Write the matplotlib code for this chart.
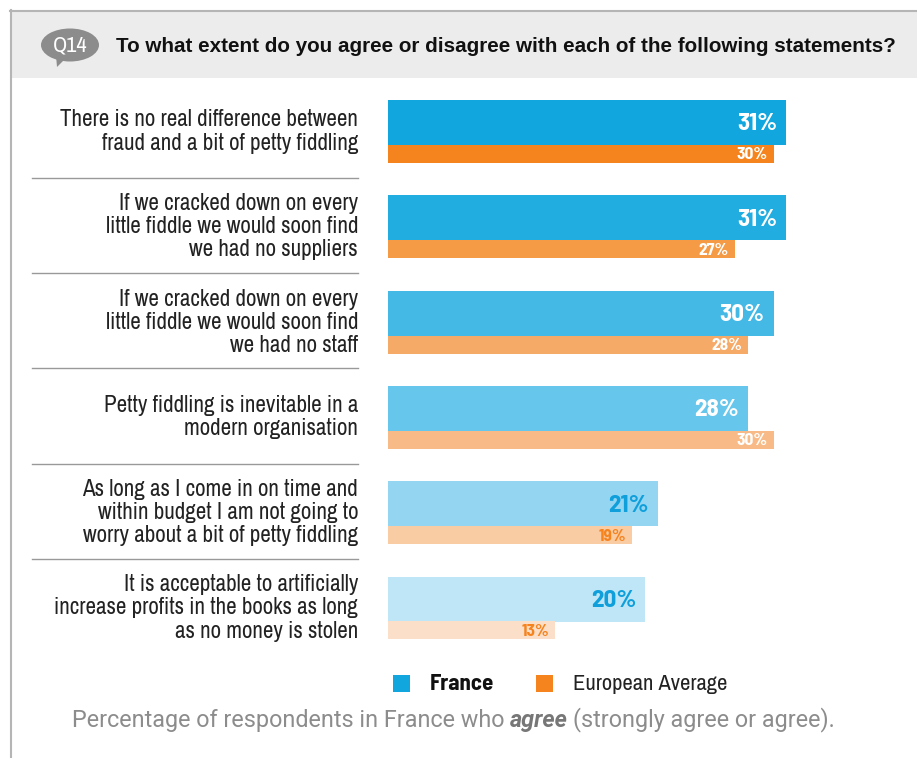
import matplotlib.pyplot as plt
from matplotlib.patches import Rectangle, Ellipse, Polygon
import numpy as np

# Data
statements = [
    'There is no real difference between\nfraud and a bit of petty fiddling',
    'If we cracked down on every\nlittle fiddle we would soon find\nwe had no suppliers',
    'If we cracked down on every\nlittle fiddle we would soon find\nwe had no staff',
    'Petty fiddling is inevitable in a\nmodern organisation',
    'As long as I come in on time and\nwithin budget I am not going to\nworry about a bit of petty fiddling',
    'It is acceptable to artificially\nincrease profits in the books as long\nas no money is stolen',
]
france = [31, 31, 30, 28, 21, 20]
europe = [30, 27, 28, 30, 19, 13]

blue_cols = ['#12a6df', '#22ade1', '#45b9e6', '#66c6eb', '#94d6f1', '#bfe6f6']
orange_cols = ['#f5841f', '#f59a45', '#f6aa68', '#f8bb87', '#f9cca4', '#fbdfc8']
label_cols_b = ['white', 'white', 'white', 'white', '#0f9fdb', '#0f9fdb']
label_cols_o = ['white', 'white', 'white', 'white', '#f5841f', '#f5841f']

narrow = ['Archivo Narrow', 'Liberation Sans Narrow', 'DejaVu Sans']
narrow_bold = ['Barlow Semi Condensed', 'Archivo Narrow', 'DejaVu Sans']
light = ['Roboto', 'DejaVu Sans']
plt.rcParams['font.family'] = ['Liberation Sans', 'DejaVu Sans']

W, H = 917, 758
fig = plt.figure(figsize=(W / 100, H / 100), dpi=100)

# background axes in pixel coordinates
bg = fig.add_axes([0, 0, 1, 1])
bg.set_xlim(0, W)
bg.set_ylim(H, 0)
bg.axis('off')

bg.add_patch(Rectangle((10, 11), W, 67, facecolor='#ececec', edgecolor='none'))
bg.plot([10, W], [10.5, 10.5], color='#b5b5b5', lw=1.5)
bg.plot([10.5, 10.5], [10, H], color='#b5b5b5', lw=1.5)

# Q14 bubble
bg.add_patch(Ellipse((70, 45), 58, 33, facecolor='#8c8c8c', edgecolor='none'))
bg.add_patch(Polygon([[56, 55], [66, 58], [57, 67]], closed=True, facecolor='#8c8c8c', edgecolor='none'))
bg.text(70, 45.5, 'Q14', color='white', fontsize=16, ha='center', va='center', family=narrow)
bg.text(116, 46, 'To what extent do you agree or disagree with each of the following statements?',
        fontsize=14.9, fontweight='bold', color='#111111', ha='left', va='center')

# bar axes
scale = 12.85
unit = 95.3
top_px = 82
ax_left, ax_right = 388, 388 + scale * 40
ax = fig.add_axes([ax_left / W, 1 - (top_px + 6 * unit) / H, (ax_right - ax_left) / W, 6 * unit / H])
ax.set_xlim(0, 40)
ax.set_ylim(6, 0)
ax.axis('off')

y = np.arange(len(statements))
off = 18 / unit
hb = 45 / unit
ho = 18 / unit
ax.barh(y + off + hb / 2, france, height=hb, color=blue_cols, align='center')
ax.barh(y + off + hb + ho / 2, europe, height=ho, color=orange_cols, align='center')

for i in range(len(statements)):
    ax.text(france[i] - 9 / scale, i + off + hb / 2 + 0.02, f'{france[i]}%', ha='right', va='center',
            fontsize=18, fontweight='bold', color=label_cols_b[i], family=narrow_bold)
    ax.text(europe[i] - 6 / scale, i + off + hb + ho / 2 + 0.01, f'{europe[i]}%', ha='right', va='center',
            fontsize=12.5, fontweight='bold', color=label_cols_o[i], family=narrow_bold)
    # statement label
    ax.text(-30 / scale, i + off + (hb + ho) / 2, statements[i], ha='right', va='center',
            fontsize=16.6, color='#222222', family=narrow, linespacing=1.12)
    if i > 0:
        ax.plot([-356 / scale, -30 / scale], [i + 0.005, i + 0.005], color='#999999', lw=1,
                clip_on=False)

# legend
bg.add_patch(Rectangle((393, 675), 17, 17, facecolor='#12a6df', edgecolor='none'))
bg.text(430, 684, 'France', fontsize=16.5, fontweight='bold', color='#111111', va='center',
        family=narrow_bold)
bg.add_patch(Rectangle((536, 675), 17, 17, facecolor='#f5841f', edgecolor='none'))
bg.text(573, 684, 'European Average', fontsize=16.2, color='#222222', va='center', family=narrow)

# footnote
fs = 16.8
bg.text(72, 720, 'Percentage of respondents in France who ', fontsize=fs, color='#8c8c8c',
        va='center', ha='left', family=light)
fig.canvas.draw()
t1 = bg.texts[-1]
bb = t1.get_window_extent()
x1 = bg.transData.inverted().transform((bb.x1, bb.y0))[0]
t2 = bg.text(x1, 720, 'agree', fontsize=fs, color='#777777', fontweight='bold', fontstyle='italic',
             va='center', ha='left', family=light)
fig.canvas.draw()
bb = t2.get_window_extent()
x2 = bg.transData.inverted().transform((bb.x1, bb.y0))[0]
bg.text(x2 + 5, 720, '(strongly agree or agree).', fontsize=fs, color='#8c8c8c', va='center',
        ha='left', family=light)

fig.savefig('out.png', dpi=100)
